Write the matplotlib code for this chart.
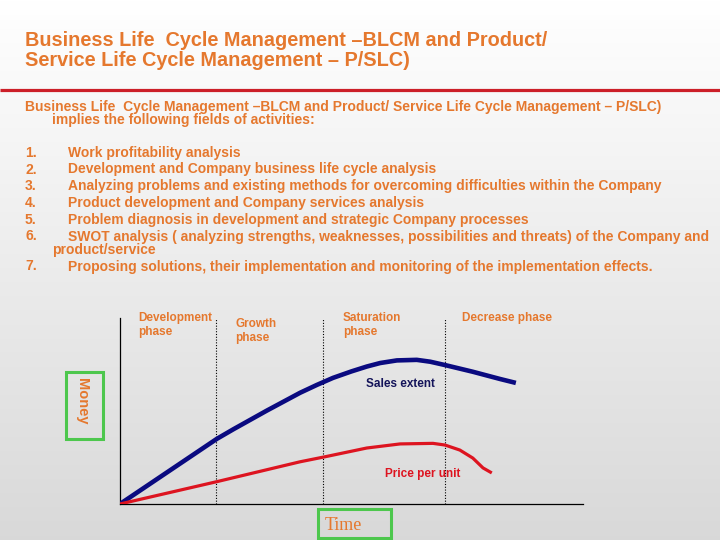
import numpy as np
import matplotlib
matplotlib.use("Agg")
import matplotlib.pyplot as plt
from matplotlib.patches import Rectangle

# ---------------- data ----------------
title_lines = ["Business Life  Cycle Management \u2013BLCM and Product/",
               "Service Life Cycle Management \u2013 P/SLC)"]
intro_lines = ["Business Life  Cycle Management \u2013BLCM and Product/ Service Life Cycle Management \u2013 P/SLC)",
               "implies the following fields of activities:"]
item_numbers = ["1.", "2.", "3.", "4.", "5.", "6.", "7."]
item_texts = ["Work profitability analysis",
              "Development and Company business life cycle analysis",
              "Analyzing problems and existing methods for overcoming difficulties within the Company",
              "Product development and Company services analysis",
              "Problem diagnosis in development and strategic Company processes",
              "SWOT analysis ( analyzing strengths, weaknesses, possibilities and threats) of the Company and",
              "Proposing solutions, their implementation and monitoring of the implementation effects."]
item6_continuation = "product/service"

phase_labels = [["Development", "phase"], ["Growth", "phase"], ["Saturation", "phase"], ["Decrease phase"]]
phase_bounds = [20.7, 43.8, 70.2]

sales_t = [0, 20.9, 24.5, 28.1, 31.7, 35.3, 38.9, 42.5, 46.0, 50.0, 53.3, 56.2, 59.8, 64.1, 67.0, 70.2, 76.2, 82.1, 85.5]
sales_v = [0, 35.0, 40.2, 45.2, 50.2, 55.0, 59.8, 64.0, 67.8, 71.3, 73.9, 75.8, 77.2, 77.5, 76.5, 74.7, 71.1, 67.2, 65.1]
price_t = [0, 20.9, 38.9, 44.3, 53.3, 60.5, 67.6, 70.2, 73.4, 76.2, 78.4, 80.3]
price_v = [0, 12.0, 22.7, 25.4, 30.1, 32.3, 32.6, 31.7, 29.0, 24.7, 19.4, 16.7]

sales_label = "Sales extent"
price_label = "Price per unit"
y_label = "Money"
x_label = "Time"

# ---------------- style ----------------
W, H = 720, 540
ORANGE = "#E5782E"
NAVY = "#0A0A80"
RED = "#DD1420"
GREEN = "#4DC74D"
SANS = ["Liberation Sans", "DejaVu Sans"]
BODY = 10


def P(x, y):
    return (x / W, 1 - y / H)


fig = plt.figure(figsize=(7.2, 5.4), dpi=100)

# background gradient
bg = fig.add_axes([0, 0, 1, 1], zorder=0)
g = np.linspace(1.0, 0.85, 256).reshape(-1, 1)
bg.imshow(np.dstack([g, g, g]), aspect="auto", extent=[0, 1, 0, 1], origin="upper")
bg.set_xlim(0, 1)
bg.set_ylim(0, 1)
bg.axis("off")
# red separator line
bg.plot([0, 1], [1 - 90 / H, 1 - 90 / H], color="#CC1F28", lw=2.3, solid_capstyle="butt")

# title
for i, line in enumerate(title_lines):
    fig.text(*P(25, [45.5, 66][i]), line, fontsize=14.3, fontweight="bold",
             color=ORANGE, family=SANS, va="baseline", ha="left")

# intro
fig.text(*P(25, 110.7), intro_lines[0], fontsize=BODY, fontweight="bold", color=ORANGE,
         family=SANS, va="baseline")
fig.text(*P(52.5, 123.7), intro_lines[1], fontsize=BODY, fontweight="bold", color=ORANGE,
         family=SANS, va="baseline")

item_baselines = [157, 173.5, 190.3, 207, 223.8, 240.5, 270.5]
for num, txt, yb in zip(item_numbers, item_texts, item_baselines):
    fig.text(*P(25, yb), num, fontsize=BODY, fontweight="bold", color=ORANGE, family=SANS, va="baseline")
    fig.text(*P(68, yb), txt, fontsize=BODY, fontweight="bold", color=ORANGE, family=SANS, va="baseline")
fig.text(*P(52.5, 254), item6_continuation, fontsize=BODY, fontweight="bold", color=ORANGE,
         family=SANS, va="baseline")

# chart axes
x0, y0, x1, y1 = 120, 504, 583, 318
ax = fig.add_axes([x0 / W, 1 - y0 / H, (x1 - x0) / W, (y0 - y1) / H], zorder=2)
ax.patch.set_alpha(0)
ax.set_xlim(0, 100)
ax.set_ylim(0, 100)
for s in ["top", "right"]:
    ax.spines[s].set_visible(False)
for s in ["left", "bottom"]:
    ax.spines[s].set_linewidth(0.9)
    ax.spines[s].set_color("black")
ax.set_xticks([])
ax.set_yticks([])

for b in phase_bounds:
    ax.axvline(b, color="black", lw=0.8, ls=(0, (1, 1.5)))

ax.plot(sales_t, sales_v, color=NAVY, lw=3.3, solid_joinstyle="round", solid_capstyle="butt", zorder=3)
ax.plot(price_t, price_v, color=RED, lw=2.3, solid_joinstyle="round", solid_capstyle="butt", zorder=3)

# phase labels
phase_pos = [(138.5, 320.7), (235, 326.7), (342.7, 320.7), (461.7, 320.7)]
for lines, (px, py) in zip(phase_labels, phase_pos):
    for k, ln in enumerate(lines):
        fig.text(*P(px, py + 14.5 * k), ln, fontsize=8.5, fontweight="bold", color=ORANGE,
                 family=SANS, va="baseline", zorder=5)

fig.text(*P(366.5, 386.7), sales_label, fontsize=8.5, fontweight="bold", color="#14145A",
         family=SANS, va="baseline", zorder=5)
fig.text(*P(385, 476.7), price_label, fontsize=8.5, fontweight="bold", color=RED,
         family=SANS, va="baseline", zorder=5)

# Money box
fig.patches.append(Rectangle(P(66, 439), 37 / W, 67 / H, transform=fig.transFigure,
                             fill=False, edgecolor=GREEN, lw=2.2, zorder=5))
fig.text(*P(82, 401), y_label, rotation=270, fontsize=10.5, fontweight="bold", color=ORANGE,
         family=SANS, ha="center", va="center", zorder=6)

# Time box
fig.patches.append(Rectangle(P(318, 538), 72.5 / W, 29 / H, transform=fig.transFigure,
                             fill=False, edgecolor=GREEN, lw=2.2, zorder=5))
fig.text(*P(325, 530), x_label, fontsize=13, color=ORANGE,
         family=["Liberation Serif", "DejaVu Serif"], va="baseline", ha="left", zorder=6)

fig.savefig("out.png", dpi=100)
